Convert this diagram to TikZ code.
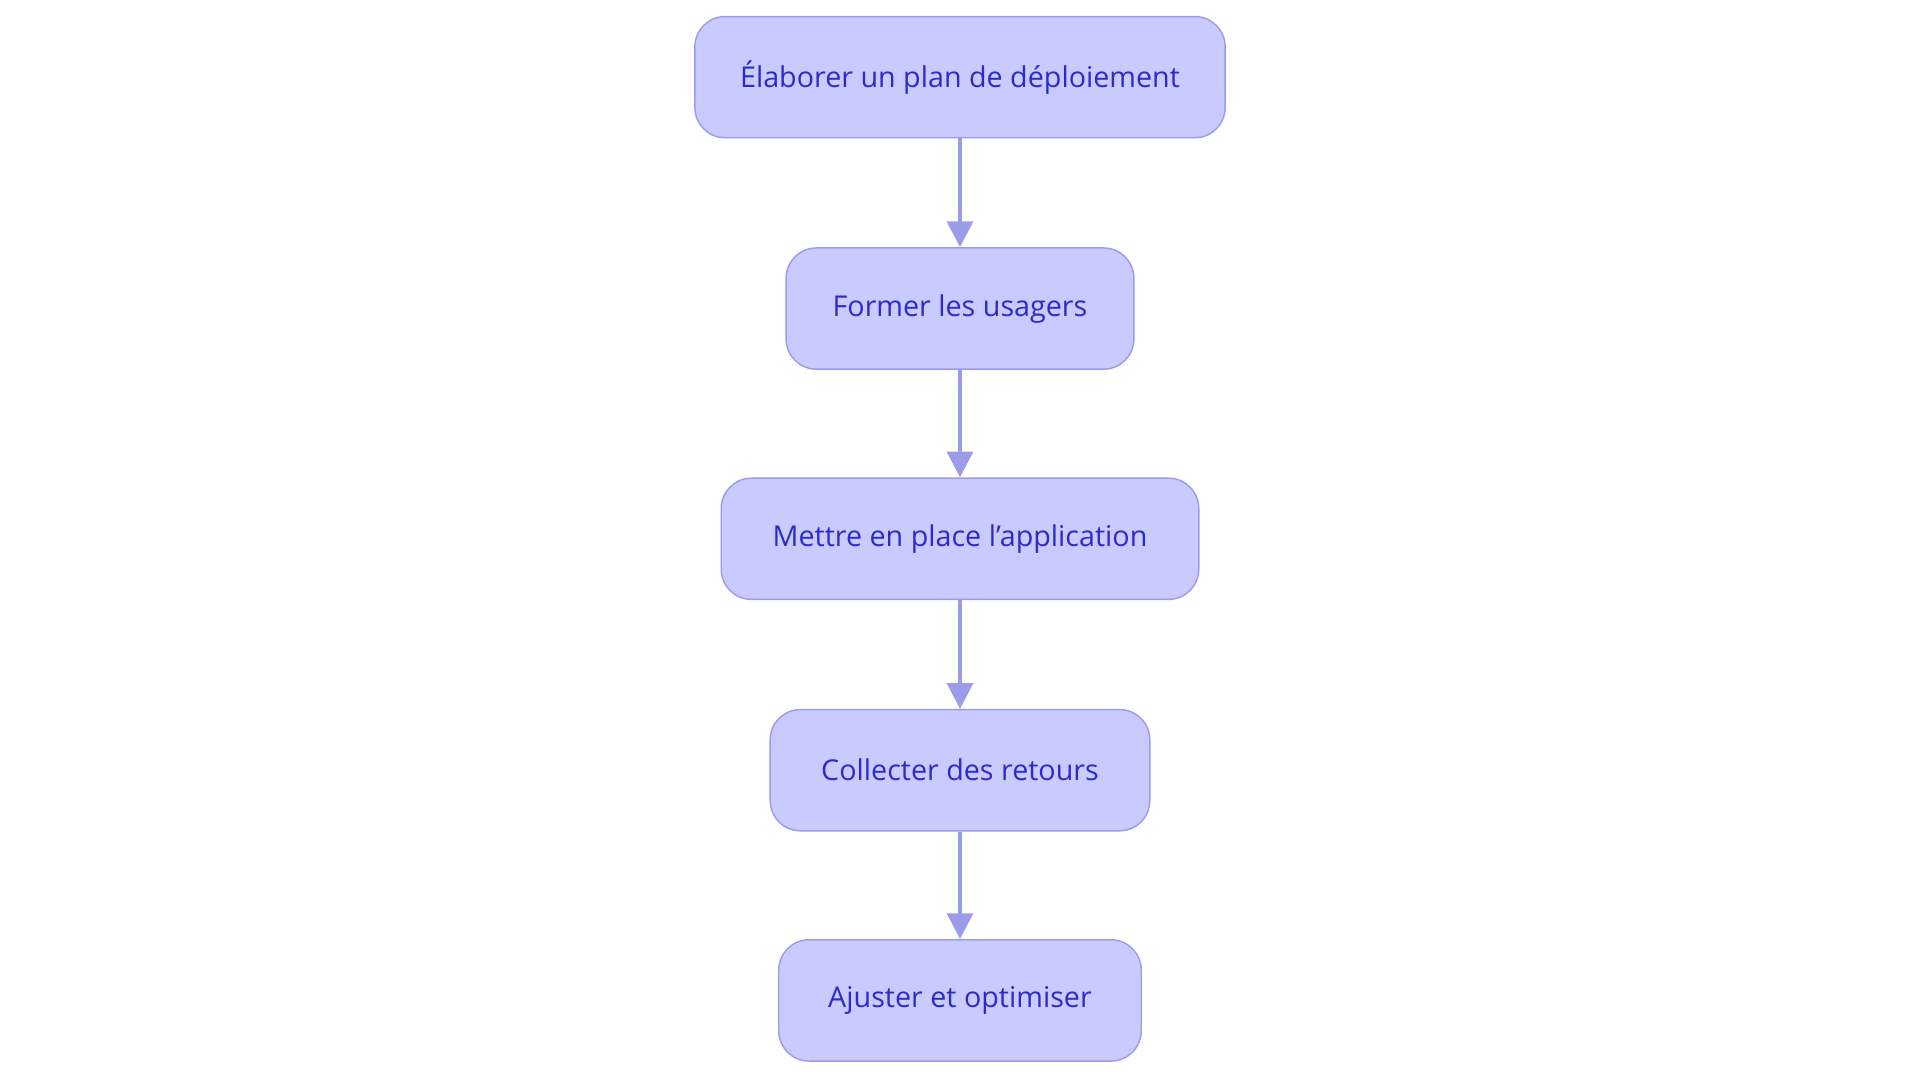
\documentclass[tikz,border=0pt]{standalone}
\usepackage{fontspec}
\setmainfont{Open Sans}
\usetikzlibrary{arrows.meta,positioning}
\definecolor{stepfill}{HTML}{C9CBFE}
\definecolor{stepline}{HTML}{9A9CEB}
\definecolor{steptext}{HTML}{2B2BCC}
\begin{document}
\begin{tikzpicture}[x=0.03cm,y=-0.03cm,
    stage/.style={draw=stepline,fill=stepfill,text=steptext,line width=1pt,
        rounded corners=0.74cm,minimum height=2.97cm,inner sep=0pt,
        font=\fontsize{20}{24}\selectfont},
    link/.style={draw=stepline,line width=2.5pt,-{Triangle[length=18pt,width=18pt]}}]
    \useasboundingbox (0,0) rectangle (1568,884);
    \node[stage, minimum width=12.99cm] at (784, 63) (plan) {Élaborer un plan de déploiement};
    \node[stage, minimum width=8.52cm] at (784, 252) (former) {Former les usagers};
    \node[stage, minimum width=11.7cm] at (784, 440) (mettre) {Mettre en place l'application};
    \node[stage, minimum width=9.3cm] at (784, 629) (collecter) {Collecter des retours};
    \node[stage, minimum width=8.88cm] at (784, 817) (ajuster) {Ajuster et optimiser};
    \draw[link] (plan) -- (former);
    \draw[link] (former) -- (mettre);
    \draw[link] (mettre) -- (collecter);
    \draw[link] (collecter) -- (ajuster);
\end{tikzpicture}
\end{document}
